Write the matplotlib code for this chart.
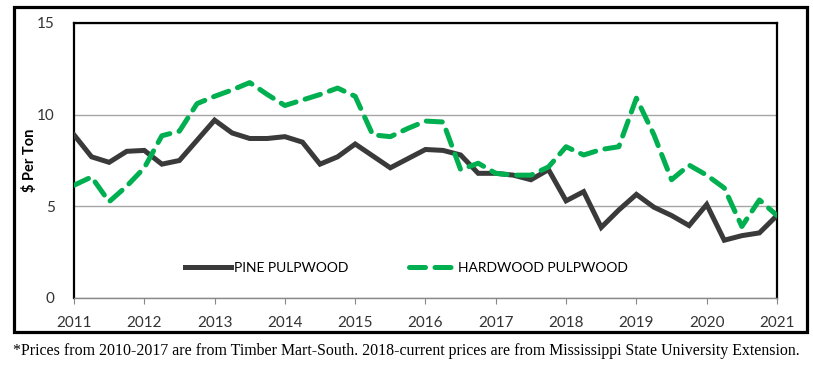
import matplotlib.pyplot as plt
from matplotlib.patches import Rectangle
import numpy as np

# quarterly prices, 2011 Q1 .. 2021 Q1
years = np.arange(2011, 2021.01, 0.25)
pine = [8.9, 7.7, 7.4, 8.0, 8.05, 7.3, 7.5, 8.6, 9.7, 9.0, 8.7, 8.7, 8.8, 8.5,
        7.3, 7.7, 8.4, 7.75, 7.1, 7.6, 8.1, 8.05, 7.8, 6.8, 6.8, 6.7, 6.45, 7.0,
        5.3, 5.8, 3.85, 4.8, 5.65, 4.95, 4.5, 3.95, 5.1, 3.15, 3.4, 3.55, 4.5]
hardwood = [6.15, 6.6, 5.25, 6.1, 7.1, 8.85, 9.1, 10.6, 11.0, 11.35, 11.75, 11.1,
            10.5, 10.8, 11.1, 11.45, 11.0, 8.9, 8.8, 9.25, 9.65, 9.6, 7.0, 7.35,
            6.8, 6.7, 6.7, 7.15, 8.25, 7.8, 8.1, 8.25, 10.9, 8.9, 6.45, 7.25,
            6.7, 6.0, 3.9, 5.35, 4.5]
year_ticks = list(range(2011, 2022))
y_ticks = [0, 5, 10, 15]

fig = plt.figure(figsize=(8.13, 3.65), dpi=100)
ax = fig.add_axes([0.091, 0.1836, 0.8647, 0.7534])

# outer box round the chart
fig.patches.append(Rectangle((0.0172, 0.0904), 0.9754, 0.8904, transform=fig.transFigure,
                             fill=False, edgecolor='black', linewidth=2.3))

ax.plot(years, pine, color='#3a3a3a', linewidth=3.6, solid_joinstyle='miter',
        label='PINE PULPWOOD', zorder=3)
ax.plot(years, hardwood, color='#00b050', linewidth=3.6, dashes=(3.2, 1.9),
        dash_capstyle='round', label='HARDWOOD PULPWOOD', zorder=3)

ax.set_xlim(2011, 2021)
ax.set_ylim(0, 15)
ax.set_xticks(year_ticks)
ax.set_yticks(y_ticks)
ax.yaxis.grid(True, color='#a6a6a6', linewidth=1.0)
ax.set_axisbelow(True)
for s in ['left', 'top', 'right']:
    ax.spines[s].set_linewidth(1.6)
ax.spines['bottom'].set_color('#888888')
ax.spines['bottom'].set_linewidth(1.0)

ax.tick_params(axis='x', length=4, color='#888888', pad=9, labelsize=11, labelcolor='#333333')
ax.tick_params(axis='y', length=0, pad=14, labelsize=11, labelcolor='#333333')
for lab in ax.get_xticklabels() + ax.get_yticklabels():
    lab.set_fontfamily('Lato')

ax.set_ylabel('$ Per Ton', fontfamily='Lato', fontweight='bold', fontsize=10.5)
ax.yaxis.set_label_coords(-0.053, 0.5)

ax.legend(loc='center left', bbox_to_anchor=(0.158, 0.109), ncol=2, frameon=False,
          handlelength=3.3, handletextpad=0.2, columnspacing=4.4, borderpad=0,
          borderaxespad=0, prop={'family': 'Lato', 'size': 10})

fig.text(0.016, 0.027, '*Prices from 2010-2017 are from Timber Mart-South. 2018-current prices '
         'are from Mississippi State University Extension.',
         fontfamily='Liberation Serif', fontsize=11.4, ha='left', va='baseline')

fig.savefig('out.png', dpi=100)
plt.close(fig)
